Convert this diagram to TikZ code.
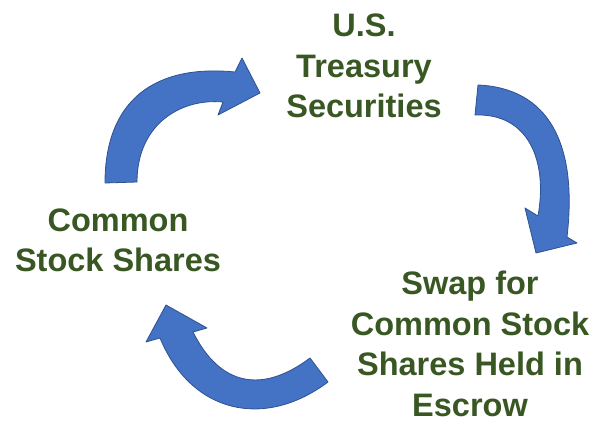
\documentclass[tikz,border=0pt]{standalone}
\usepackage{fontspec}
\setmainfont{Liberation Sans}

\definecolor{arrowblue}{HTML}{4472C4}
\definecolor{arrowedge}{HTML}{2F528F}
\definecolor{stagegreen}{HTML}{385723}

\begin{document}
\begin{tikzpicture}[
    x=1pt, y=-1pt,
    stage/.style={
        text=stagegreen,
        font=\bfseries\fontsize{32.5}{40.5}\selectfont,
        align=center,
        inner sep=0pt
    },
    bigarrow/.style={
        fill=arrowblue,
        draw=arrowedge,
        line width=0.8pt,
        line join=round
    }
]
\useasboundingbox (0,0) rectangle (595,422);

\node[stage] (treasury) at (364,66) {U.S.\\Treasury\\Securities};
\node[stage] (common) at (118,240.5) {Common\\Stock Shares};
\node[stage] (swap) at (470,344) {Swap for\\Common Stock\\Shares Held in\\Escrow};

% shares up to treasuries
\draw[bigarrow] (105,183) .. controls (105,100) and (155,64) .. (235,72)
    -- (242,58) -- (260,93) -- (218,115) -- (223,102)
    .. controls (180,98) and (137,125) .. (137,182) -- cycle;

% treasuries down to the swap
\draw[bigarrow] (478,85) .. controls (548,88) and (578,143) .. (567,237)
    -- (577,243) -- (536,253) -- (525,208) -- (538,216)
    .. controls (548,160) and (528,113) .. (475,115) -- cycle;

% swap back to shares
\draw[bigarrow] (328,382) .. controls (264,430) and (191,413) .. (160,338)
    -- (146,342) -- (166,305) -- (207,328) -- (193,332)
    .. controls (220,386) and (262,394) .. (310,358) -- cycle;

\end{tikzpicture}
\end{document}
